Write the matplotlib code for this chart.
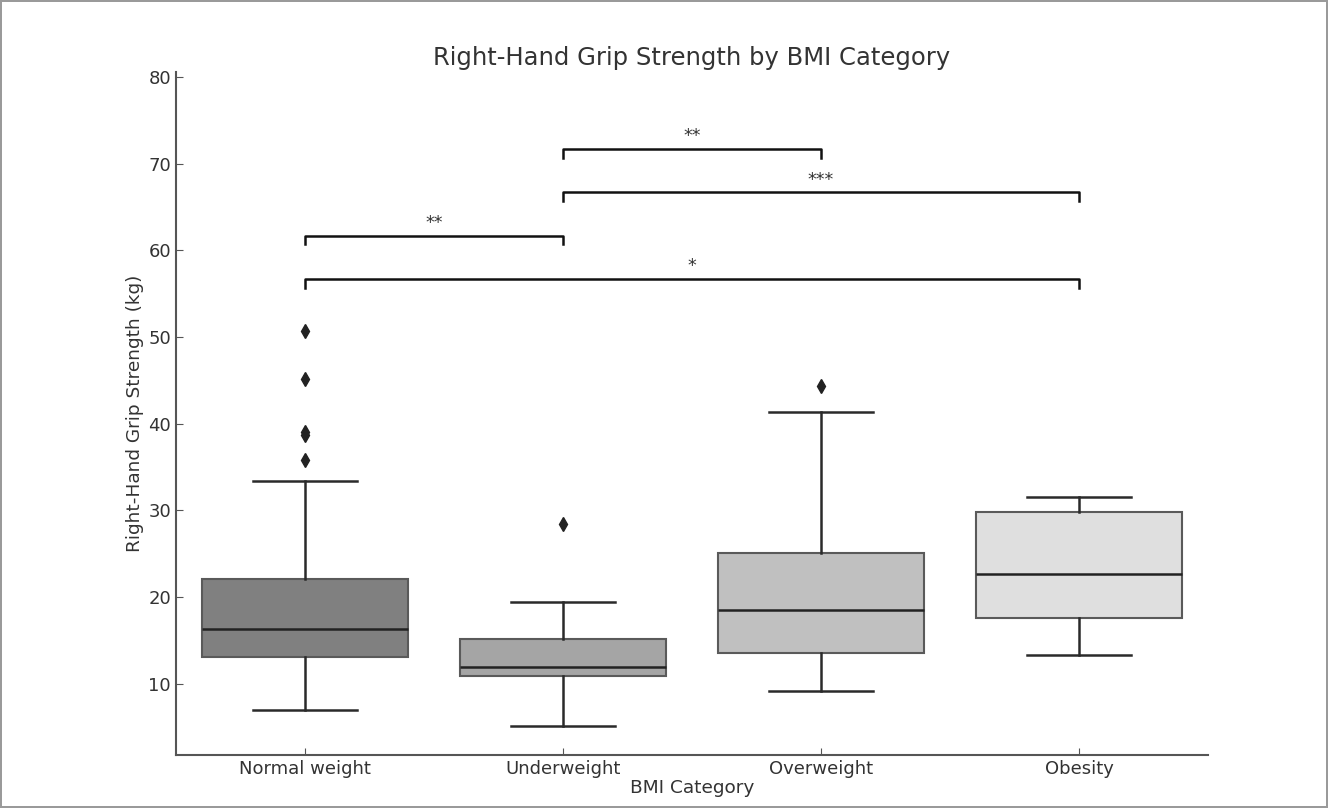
import matplotlib
matplotlib.use('agg')
import matplotlib.pyplot as plt

# grip strength summary per BMI group (kg)
categories = ['Normal weight', 'Underweight', 'Overweight', 'Obesity']
whisker_low = [7.0, 5.1, 9.2, 13.3]
q1 = [13.1, 10.9, 13.6, 17.6]
median = [16.3, 12.0, 18.5, 22.7]
q3 = [22.1, 15.2, 25.1, 29.8]
whisker_high = [33.4, 19.4, 41.4, 31.6]
outliers = [[50.7, 45.2, 38.7, 39.0, 35.8], [28.4], [44.4], []]
box_colors = ['#808080', '#a5a5a5', '#c0c0c0', '#dfdfdf']

# significance brackets: (group a, group b, line height, label)
pairs = [(0, 3, 56.7, '*'), (0, 1, 61.7, '**'), (1, 3, 66.7, '***'), (1, 2, 71.7, '**')]
bracket_drop = 1.0

text_color = '#333333'

fig = plt.figure(figsize=(13.28, 8.08), dpi=100)
fig.patch.set_edgecolor('#9a9a9a')
fig.patch.set_linewidth(1.5)
ax = fig.add_axes([0.1325, 0.0656, 0.7771, 0.8457])

stats = []
for i, name in enumerate(categories):
    stats.append(dict(label=name, whislo=whisker_low[i], q1=q1[i], med=median[i],
                      q3=q3[i], whishi=whisker_high[i], fliers=outliers[i]))

bp = ax.bxp(stats, positions=range(len(categories)), widths=0.8, patch_artist=True,
            boxprops=dict(edgecolor='#5a5a5a', linewidth=1.5),
            whiskerprops=dict(color='#2a2a2a', linewidth=1.8),
            capprops=dict(color='#2a2a2a', linewidth=1.8),
            medianprops=dict(color='#222222', linewidth=1.8),
            flierprops=dict(marker='d', markerfacecolor='#222222', markeredgecolor='#222222',
                            markersize=7, linestyle='none'))
for patch, c in zip(bp['boxes'], box_colors):
    patch.set_facecolor(c)

for a, b, y, label in pairs:
    ax.plot([a, a, b, b], [y - bracket_drop, y, y, y - bracket_drop], color='#111111', lw=1.8)
    ax.text((a + b) / 2, y + 0.4, label, ha='center', va='bottom', fontsize=12.5, color=text_color)

ax.set_xlim(-0.5, 3.5)
ax.set_ylim(1.8, 80.6)
ax.set_yticks([10, 20, 30, 40, 50, 60, 70, 80])
ax.spines['top'].set_visible(False)
ax.spines['right'].set_visible(False)
for s in ('left', 'bottom'):
    ax.spines[s].set_color('#555555')
    ax.spines[s].set_linewidth(1.5)
ax.tick_params(direction='in', labelsize=13, colors='#555555', labelcolor=text_color, length=5)

ax.set_title('Right-Hand Grip Strength by BMI Category', fontsize=17.5, color=text_color, pad=5)
ax.set_xlabel('BMI Category', fontsize=13.3, color=text_color, labelpad=1)
ax.set_ylabel('Right-Hand Grip Strength (kg)', fontsize=13.3, color=text_color, labelpad=3)

fig.savefig('out.png', dpi=100)
